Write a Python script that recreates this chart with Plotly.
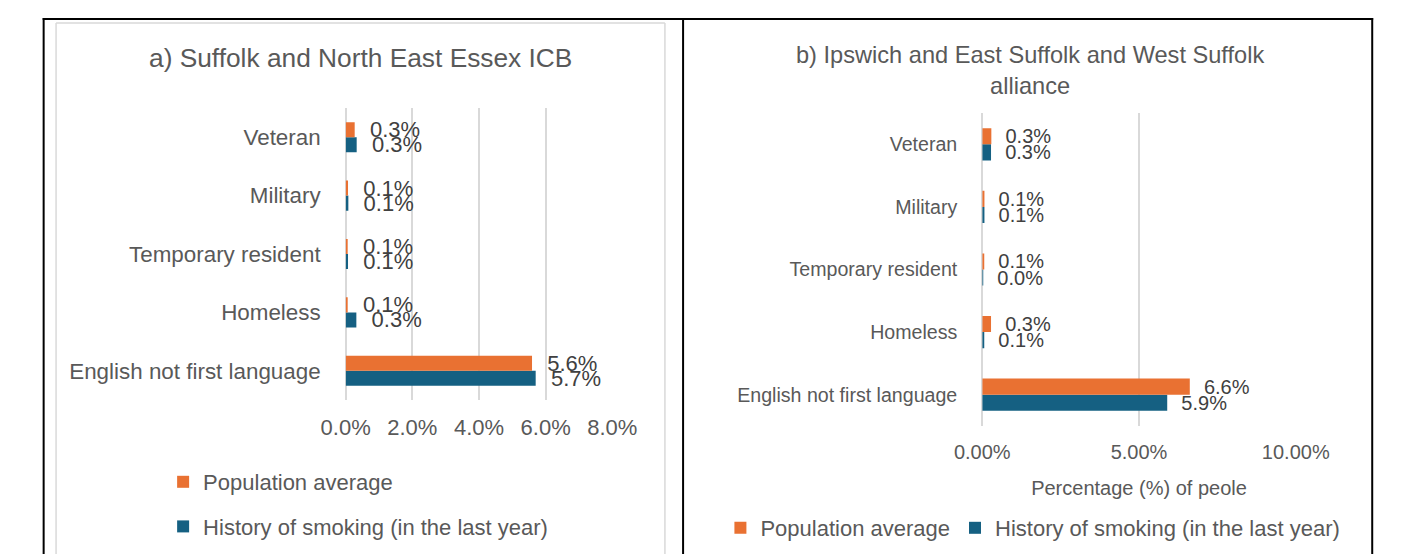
import plotly.graph_objects as go

# ---------------- data ----------------
categories = ["Veteran", "Military", "Temporary resident", "Homeless", "English not first language"]
series_names = ["Population average", "History of smoking (in the last year)"]

# a) Suffolk and North East Essex ICB (percent of people)
a_population = [0.27, 0.07, 0.06, 0.06, 5.59]
a_smoking = [0.33, 0.08, 0.07, 0.32, 5.70]

# b) Ipswich and East Suffolk and West Suffolk alliance (percent of people)
b_population = [0.29, 0.07, 0.06, 0.28, 6.62]
b_smoking = [0.28, 0.07, 0.03, 0.06, 5.90]

a_ticks = [0, 2, 4, 6, 8]
a_ticktext = ["0.0%", "2.0%", "4.0%", "6.0%", "8.0%"]
b_ticks = [0, 5, 10]
b_ticktext = ["0.00%", "5.00%", "10.00%"]

title_a = "a) Suffolk and North East Essex ICB"
title_b = "b) Ipswich and East Suffolk and West Suffolk<br>alliance"
b_xtitle = "Percentage (%) of peole"

# ---------------- style ----------------
W, H = 1403, 554
ORANGE = "#E97132"
BLUE = "#156082"
TXT = "#595959"
LBL = "#404040"
GRID = "#D9D9D9"
FONT = "Liberation Sans, Arial, sans-serif"
NB = "\u00a0"


def px(x):
    return x / W


def py(y):
    return 1 - y / H


def labels(vals, pad):
    return [NB * pad + f"{v:.1f}%" for v in vals]


fig = go.Figure()

# panel a (blue first so that orange sits above it inside each group)
fig.add_trace(go.Bar(y=categories, x=a_smoking, orientation="h", name=series_names[1],
                     marker=dict(color=BLUE, line=dict(width=0)), text=labels(a_smoking, 2),
                     textposition="outside", constraintext="none", cliponaxis=False,
                     textfont=dict(size=22, color=LBL, family=FONT),
                     xaxis="x", yaxis="y", legend="legend", legendgroup="a2", legendrank=2,
                     hoverinfo="skip"))
fig.add_trace(go.Bar(y=categories, x=a_population, orientation="h", name=series_names[0],
                     marker=dict(color=ORANGE, line=dict(width=0)), text=labels(a_population, 2),
                     textposition="outside", constraintext="none", cliponaxis=False,
                     textfont=dict(size=22, color=LBL, family=FONT),
                     xaxis="x", yaxis="y", legend="legend", legendgroup="a1", legendrank=1,
                     hoverinfo="skip"))

# panel b
fig.add_trace(go.Bar(y=categories, x=b_smoking, orientation="h", name=series_names[1],
                     marker=dict(color=BLUE, line=dict(width=0)), text=labels(b_smoking, 2),
                     textposition="outside", constraintext="none", cliponaxis=False,
                     textfont=dict(size=20, color=LBL, family=FONT),
                     xaxis="x2", yaxis="y2", legend="legend2", legendrank=2,
                     hoverinfo="skip"))
fig.add_trace(go.Bar(y=categories, x=b_population, orientation="h", name=series_names[0],
                     marker=dict(color=ORANGE, line=dict(width=0)), text=labels(b_population, 2),
                     textposition="outside", constraintext="none", cliponaxis=False,
                     textfont=dict(size=20, color=LBL, family=FONT),
                     xaxis="x2", yaxis="y2", legend="legend2", legendrank=1,
                     hoverinfo="skip"))

cat_order = list(reversed(categories))

fig.update_layout(
    width=W, height=H,
    margin=dict(l=0, r=0, t=0, b=0),
    paper_bgcolor="white", plot_bgcolor="white",
    barmode="group", bargap=0.485, bargroupgap=0,
    font=dict(family=FONT, color=TXT),
    xaxis=dict(domain=[px(324), px(603)], range=[0, 8], tickvals=a_ticks, ticktext=a_ticktext,
               showgrid=True, gridcolor=GRID, gridwidth=1.5,
               zeroline=True, zerolinecolor=GRID, zerolinewidth=1.5, showline=False,
               tickfont=dict(size=22, color=TXT), ticklabelstandoff=12, anchor="y", fixedrange=True),
    yaxis=dict(domain=[py(392), py(100)], categoryorder="array", categoryarray=cat_order,
               tickfont=dict(size=22.4, color=TXT), ticklabelstandoff=24, showgrid=False,
               showline=False, anchor="x", fixedrange=True),
    xaxis2=dict(domain=[px(990), px(1318)], range=[0, 10], tickvals=b_ticks, ticktext=b_ticktext,
                showgrid=True, gridcolor=GRID, gridwidth=1.5,
                zeroline=True, zerolinecolor=GRID, zerolinewidth=1.5, showline=False,
                tickfont=dict(size=20, color=TXT), ticklabelstandoff=12, anchor="y2",
                title=dict(text=b_xtitle, font=dict(size=20, color=TXT), standoff=18),
                fixedrange=True),
    yaxis2=dict(domain=[py(418), py(105)], categoryorder="array", categoryarray=cat_order,
                tickfont=dict(size=19.6, color=TXT), ticklabelstandoff=24, showgrid=False,
                showline=False, anchor="x2", fixedrange=True),
    legend=dict(x=px(133), y=py(453), xanchor="left", yanchor="top", orientation="v",
                font=dict(size=22, color=TXT), tracegroupgap=13, bgcolor="rgba(0,0,0,0)",
                traceorder="grouped"),
    legend2=dict(x=px(1043), y=py(520), xanchor="center", yanchor="middle", orientation="h",
                 font=dict(size=22, color=TXT), bgcolor="rgba(0,0,0,0)", traceorder="normal"),
    showlegend=True,
)

fig.add_annotation(text=title_a, x=px(340), y=py(50), xref="paper", yref="paper",
                   showarrow=False, font=dict(size=26.3, color=TXT), xanchor="center", yanchor="middle")
fig.add_annotation(text=title_b, x=px(1040), y=py(62), xref="paper", yref="paper",
                   showarrow=False, font=dict(size=23.6, color=TXT), xanchor="center", yanchor="middle")

# frame lines (table borders and the chart-area outline of panel a)
frame = [
    # light chart-area border of panel a
    dict(x0=21, y0=15, x1=658, y1=15, color=GRID, w=1.5),
    dict(x0=21, y0=15, x1=21, y1=554, color=GRID, w=1.5),
    dict(x0=658, y0=15, x1=658, y1=554, color=GRID, w=1.5),
    # black table borders
    dict(x0=7, y0=11, x1=1399, y1=11, color="black", w=2),
    dict(x0=8, y0=10, x1=8, y1=554, color="black", w=2),
    dict(x0=677, y0=10, x1=677, y1=554, color="black", w=2),
    dict(x0=1398, y0=10, x1=1398, y1=554, color="black", w=2),
]
for f in frame:
    fig.add_shape(type="line", xref="paper", yref="paper",
                  x0=px(f["x0"]), x1=px(f["x1"]), y0=py(f["y0"]), y1=py(f["y1"]),
                  line=dict(color=f["color"], width=f["w"]))

fig.write_html("out.html")
